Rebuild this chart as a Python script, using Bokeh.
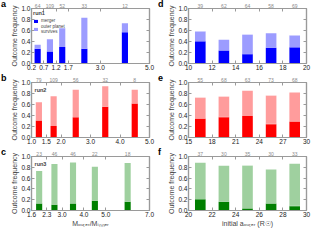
from bokeh.plotting import figure
from bokeh.models import FixedTicker, LinearAxis, Range1d, Label, Legend, LegendItem, Div
from bokeh.layouts import column, row
from bokeh.embed import file_html
from bokeh.resources import INLINE

FONT = "Liberation Sans"

# ---------------- data ----------------
# bin edges (also the x tick positions)
a_edges = [0.2, 0.7, 1.2, 1.7, 3.0, 5.0]
b_edges = [1.0, 1.5, 2.0, 3.0, 4.0, 5.0]
c_edges = [1.6, 2.3, 3.0, 4.0, 5.0, 7.0]
d_edges = [10, 12, 14, 16, 18, 20]
e_edges = [15, 18, 21, 24, 27, 30]
f_edges = [20, 22, 24, 26, 28, 30]

# number of systems per bin (top labels)
a_counts = [64, 109, 52, 33, 12]
b_counts = [79, 109, 56, 32, 8]
c_counts = [23, 46, 46, 22, 18]
d_counts = [39, 62, 64, 58, 69]
e_counts = [55, 68, 63, 73, 68]
f_counts = [37, 30, 35, 30, 33]

# outcome fractions (stacked: merger, other merger, outer planet survives, other)
a_merger = [0.27, 0.22, 0.30, 0.27, 0.57]
a_mid = [0.0, 0.0, 0.0, 0.0, 0.0]
a_outer = [0.07, 0.22, 0.34, 0.56, 0.16]
a_top = [0.0, 0.0, 0.0, 0.0, 0.0]

b_merger = [0.31, 0.21, 0.37, 0.56, 0.62]
b_mid = [0.0, 0.0, 0.0, 0.0, 0.0]
b_outer = [0.33, 0.54, 0.50, 0.37, 0.25]
b_top = [0.0, 0.0, 0.0, 0.0, 0.0]

c_merger = [0.13, 0.10, 0.13, 0.18, 0.16]
c_mid = [0.0, 0.01, 0.0, 0.0, 0.0]
c_outer = [0.60, 0.75, 0.76, 0.63, 0.72]
c_top = [0.0, 0.0, 0.0, 0.0, 0.0]

d_merger = [0.40, 0.23, 0.17, 0.28, 0.29]
d_mid = [0.01, 0.01, 0.01, 0.01, 0.01]
d_outer = [0.17, 0.19, 0.34, 0.26, 0.21]
d_top = [0.01, 0.0, 0.01, 0.0, 0.01]

e_merger = [0.34, 0.37, 0.39, 0.24, 0.29]
e_mid = [0.01, 0.01, 0.0, 0.01, 0.0]
e_outer = [0.37, 0.36, 0.46, 0.51, 0.53]
e_top = [0.01, 0.01, 0.0, 0.01, 0.0]

f_merger = [0.21, 0.16, 0.03, 0.13, 0.08]
f_mid = [0.0, 0.0, 0.01, 0.0, 0.01]
f_outer = [0.67, 0.67, 0.79, 0.63, 0.77]
f_top = [0.01, 0.0, 0.01, 0.0, 0.01]

y_ticks = [0.0, 0.2, 0.4, 0.6, 0.8, 1.0]

BLUE = ["#0000ff", "#4d4dff", "#9c9cff", "#d0d0ff"]
RED = ["#ff0000", "#ff6666", "#ff9c9c", "#ffd0d0"]
GREEN = ["#007f00", "#4da64d", "#9fd09f", "#d0e8d0"]

AX = "#9a9a9a"
LETTER_W = 8
FIG_W = 149


def style_axis(ax):
    ax.axis_line_color = AX
    ax.axis_line_width = 1.2
    ax.major_tick_line_color = AX
    ax.major_tick_in = 3
    ax.major_tick_out = 0
    ax.minor_tick_line_color = AX
    ax.minor_tick_in = 0
    ax.minor_tick_out = 0
    ax.major_label_text_font = FONT
    ax.major_label_text_font_size = "6.5px"
    ax.major_label_text_color = "#222222"
    ax.major_label_standoff = 1
    ax.axis_label_text_font = FONT
    ax.axis_label_text_font_size = "7px"
    ax.axis_label_text_font_style = "normal"
    ax.axis_label_standoff = 0


def letter_div(letter, h):
    return Div(text=letter, width=LETTER_W, height=h, margin=0,
               styles={"font-family": FONT, "font-size": "9px", "font-weight": "bold",
                       "line-height": "9px", "color": "black", "padding": "0",
                       "margin": "0", "padding-left": "1px"})


def panel(edges, counts, parts, colors, bar_w, h, mb, fmt,
          xlabel=None, run=None, legend=False):
    centers = [(edges[i] + edges[i + 1]) / 2 for i in range(len(edges) - 1)]
    p = figure(width=FIG_W, height=h, output_backend="svg", toolbar_location=None,
               x_range=Range1d(edges[0], edges[-1]), y_range=Range1d(0, 1),
               min_border_left=23, min_border_right=8, min_border_top=7,
               min_border_bottom=mb)
    p.xgrid.visible = False
    p.ygrid.visible = False
    p.outline_line_color = AX
    p.outline_line_width = 1.2
    p.background_fill_color = "white"

    data = {"x": centers, "s0": parts[0], "s1": parts[1], "s2": parts[2], "s3": parts[3]}
    rs = p.vbar_stack(["s0", "s1", "s2", "s3"], x="x", width=bar_w, color=colors,
                      line_color=None, source=data)

    xa = p.xaxis[0]
    xa.ticker = FixedTicker(ticks=edges)
    xa.major_label_overrides = {e: fmt(e) for e in edges}
    style_axis(xa)
    if xlabel:
        xa.axis_label = xlabel

    ya = p.yaxis[0]
    ya.ticker = FixedTicker(ticks=y_ticks)
    ya.major_label_overrides = {t: "%.1f" % t for t in y_ticks}
    ya.axis_label = "Outcome frequency"
    style_axis(ya)

    # counts per bin on the top axis, mirrored x ticks as minor ticks
    top = LinearAxis(ticker=FixedTicker(ticks=centers, minor_ticks=edges))
    style_axis(top)
    top.major_label_overrides = {c: str(n) for c, n in zip(centers, counts)}
    top.major_tick_in = 0
    top.minor_tick_in = 3
    top.major_label_text_font_size = "5px"
    top.major_label_text_color = "#8a8a8a"
    top.major_label_standoff = 1
    p.add_layout(top, "above")

    # mirrored y ticks on the right side (minor ticks only, so no labels)
    right = LinearAxis(ticker=FixedTicker(ticks=[], minor_ticks=y_ticks))
    style_axis(right)
    right.minor_tick_in = 3
    right.major_label_standoff = 0
    p.add_layout(right, "right")

    if legend:
        lg = Legend(items=[LegendItem(label="merger", renderers=[rs[0]]),
                           LegendItem(label="outer planet\nsurvives", renderers=[rs[2]])],
                    title=run, location="top_left")
        lg.border_line_color = None
        lg.background_fill_alpha = 0
        lg.title_text_font = FONT
        lg.title_text_font_size = "5.5px"
        lg.title_text_font_style = "bold"
        lg.title_standoff = 2
        lg.label_text_font = FONT
        lg.label_text_font_size = "4.5px"
        lg.glyph_width = 5
        lg.glyph_height = 4
        lg.label_height = 4
        lg.label_standoff = 3
        lg.spacing = 1
        lg.padding = 1
        lg.margin = 2
        p.add_layout(lg)
    elif run:
        p.add_layout(Label(x=edges[0], y=1.0, x_offset=3, y_offset=-4, text=run,
                           text_font=FONT, text_font_size="5.5px", text_font_style="bold",
                           text_baseline="top"))
    return p


f1 = lambda v: "%.1f" % v
fi = lambda v: "%d" % v

H1, H3 = 74, 81

pa = panel(a_edges, a_counts, [a_merger, a_mid, a_outer, a_top], BLUE, 0.25, H1, 11, f1,
           run="run1", legend=True)
pb = panel(b_edges, b_counts, [b_merger, b_mid, b_outer, b_top], RED, 0.21, H1, 11, f1,
           run="run2")
pc = panel(c_edges, c_counts, [c_merger, c_mid, c_outer, c_top], GREEN, 0.28, H3, 18, f1,
           xlabel="Mₒᵤₜₑᵣ/Mᵢₙₙₑᵣ", run="run3")
pd_ = panel(d_edges, d_counts, [d_merger, d_mid, d_outer, d_top], BLUE, 0.9, H1, 11, fi)
pe = panel(e_edges, e_counts, [e_merger, e_mid, e_outer, e_top], RED, 1.35, H1, 11, fi)
pf = panel(f_edges, f_counts, [f_merger, f_mid, f_outer, f_top], GREEN, 0.9, H3, 18, fi,
           xlabel="initial aₒᵤₜₑᵣ (R☉)")

layout = column(
    row(letter_div("a", H1), pa, letter_div("d", H1), pd_, spacing=0),
    row(letter_div("b", H1), pb, letter_div("e", H1), pe, spacing=0),
    row(letter_div("c", H3), pc, letter_div("f", H3), pf, spacing=0),
    spacing=0,
)
open("out.html", "w").write(file_html(layout, INLINE))
